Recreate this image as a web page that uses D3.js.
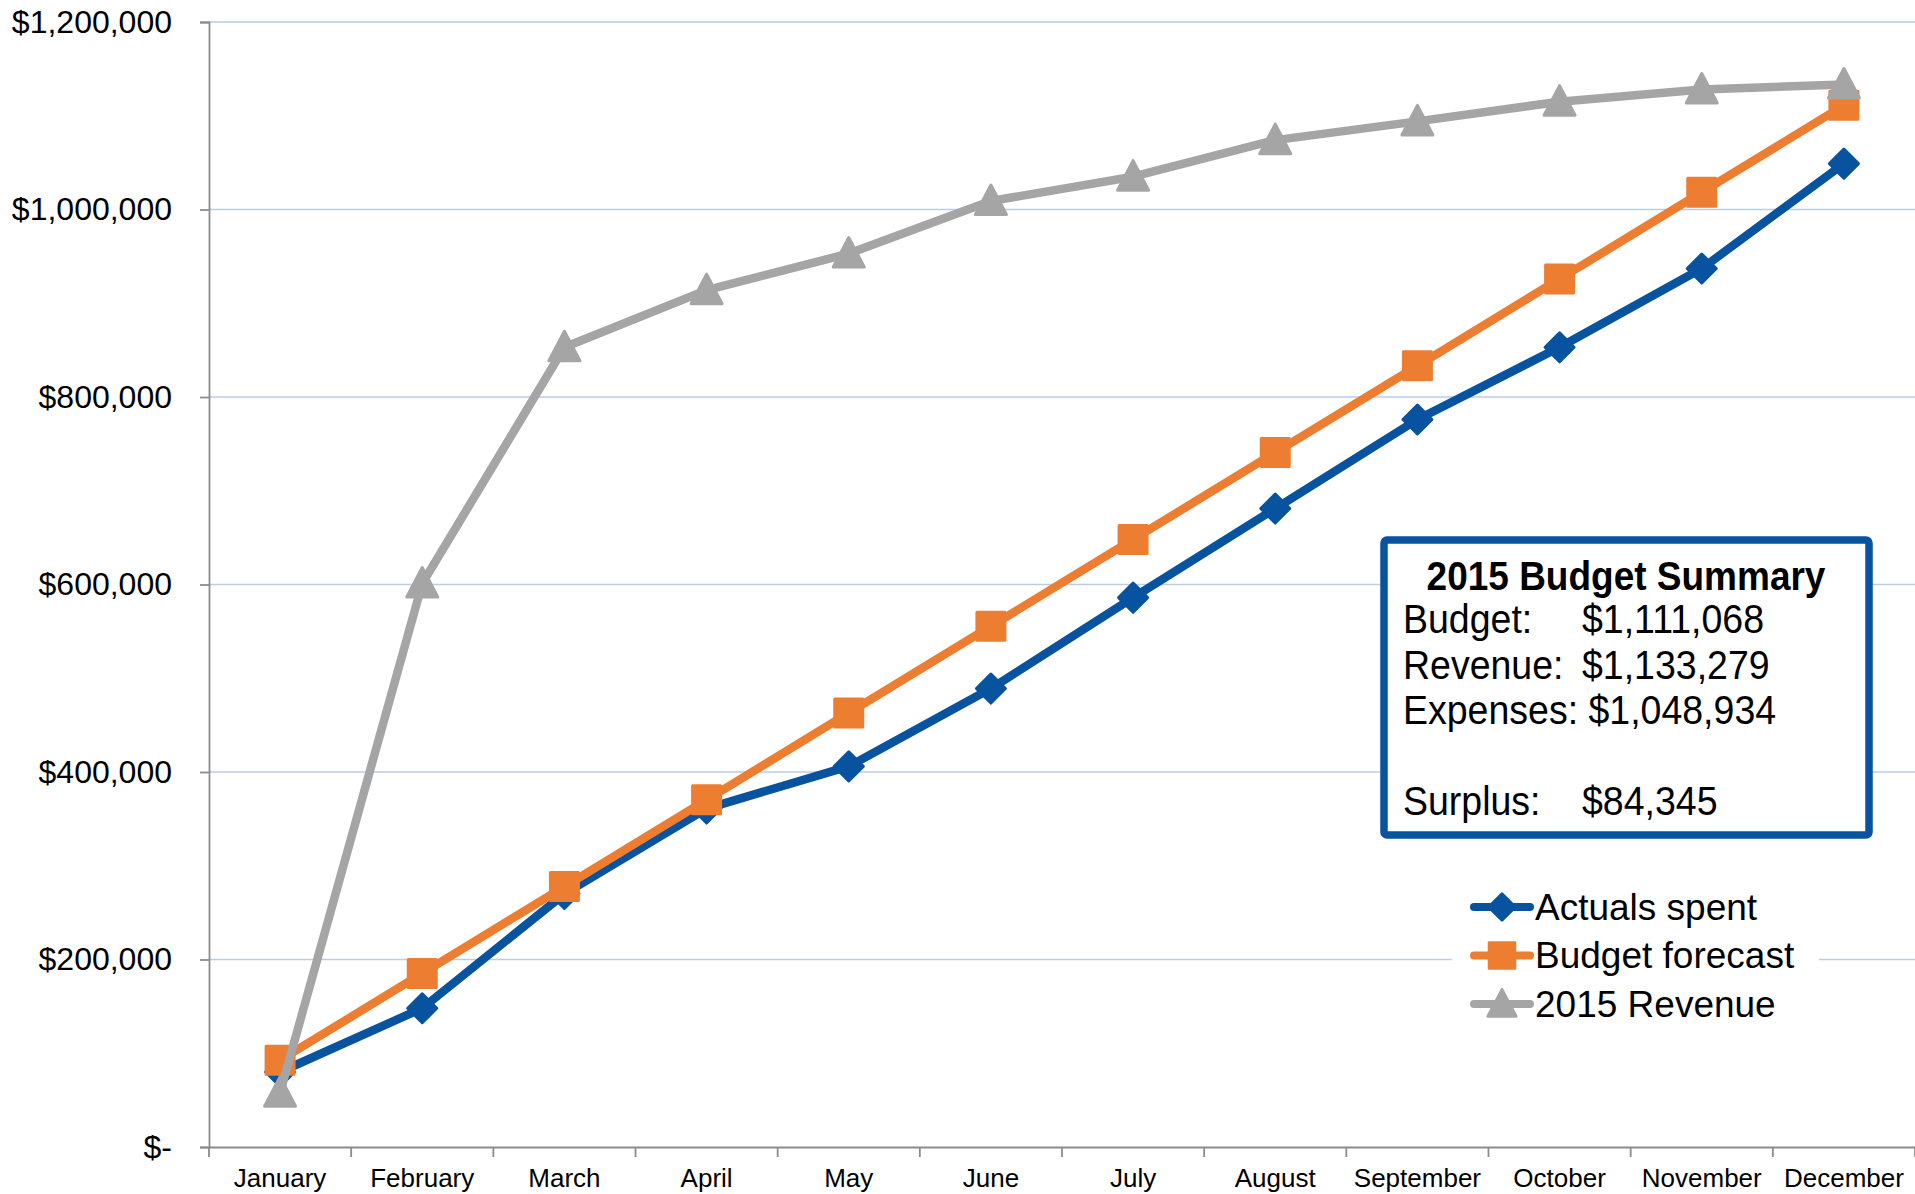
<!DOCTYPE html>
<html>
<head>
<meta charset="utf-8">
<script src="https://cdn.jsdelivr.net/npm/d3@7"></script>
<style>
  html, body { margin: 0; padding: 0; background: #fff; }
  svg { display: block; font-family: "Liberation Sans", Arial, sans-serif; }
</style>
</head>
<body>
<svg id="chart"></svg>
<script>
const months = ['January', 'February', 'March', 'April', 'May', 'June',
  'July', 'August', 'September', 'October', 'November', 'December'];
const actualsSpent = [80000, 148000, 270000, 361000, 406000, 489000,
  586000, 681000, 776000, 853000, 937000, 1048934];
const budgetForecast = [92589, 185178, 277767, 370356, 462945, 555534,
  648123, 740712, 833301, 925890, 1018479, 1111068];
const revenue2015 = [58000, 601000, 853000, 914000, 953000, 1009000,
  1035000, 1074000, 1094000, 1115000, 1128000, 1133279];
const yTicks = [0, 200000, 400000, 600000, 800000, 1000000, 1200000];
const seriesNames = ['Actuals spent', 'Budget forecast', '2015 Revenue'];
const summaryRows = [
  ['Budget:', '$1,111,068'],
  ['Revenue:', '$1,133,279'],
  ['Expenses: $1,048,934', ''],
  ['', ''],
  ['Surplus:', '$84,345'],
];

const width = 1915;
const height = 1194;
const svg = d3.select('#chart').attr('width', width).attr('height', height);

const x = d3.scaleBand().domain(months).range([209, 1915]);
const y = d3.scaleLinear().domain([0, 1200000]).range([1147, 22]);

const colors = ['#0753A0', '#ED7D31', '#A5A5A5'];
const markerPaths = [
  'M0,-14.5L14.5,0L0,14.5L-14.5,0Z',
  'M-14,-14H14V14H-14Z',
  'M0,-16L15.5,13.5L-15.5,13.5Z',
];

// gridlines
svg.append('g').selectAll('line')
  .data(yTicks.filter((d) => d > 0))
  .join('line')
  .attr('x1', 209).attr('x2', width)
  .attr('y1', (d) => y(d)).attr('y2', (d) => y(d))
  .attr('stroke', '#B9CDE5').attr('stroke-width', 1.5);

// y axis
const fmt = (d) => (d === 0 ? '$-' : '$' + d3.format(',')(d));
const yAxis = svg.append('g')
  .attr('transform', 'translate(209,0)')
  .call(d3.axisLeft(y).tickValues(yTicks).tickFormat(fmt).tickSize(9).tickPadding(28));
yAxis.select('.domain').attr('stroke', '#8C8C8C').attr('stroke-width', 1.8);
yAxis.selectAll('.tick line').attr('stroke', '#8C8C8C').attr('stroke-width', 1.8);
yAxis.selectAll('.tick text')
  .attr('font-size', 32).attr('fill', '#000')
  .attr('font-family', '"Liberation Sans", Arial, sans-serif');

// x axis
const xAxis = svg.append('g')
  .attr('transform', 'translate(0,1147)')
  .call(d3.axisBottom(x).tickSize(0).tickPadding(22));
xAxis.select('.domain').attr('stroke', '#8C8C8C').attr('stroke-width', 1.8);
xAxis.selectAll('.tick text')
  .attr('font-size', 26).attr('fill', '#000')
  .attr('font-family', '"Liberation Sans", Arial, sans-serif');
svg.append('g').selectAll('line')
  .data(d3.range(months.length + 1))
  .join('line')
  .attr('x1', (i) => 209 + i * x.step()).attr('x2', (i) => 209 + i * x.step())
  .attr('y1', 1147).attr('y2', 1157)
  .attr('stroke', '#8C8C8C').attr('stroke-width', 1.8);

// series
const allSeries = [actualsSpent, budgetForecast, revenue2015];
const cx = (i) => x(months[i]) + x.bandwidth() / 2;
const line = d3.line().x((d, i) => cx(i)).y((d) => y(d));

allSeries.forEach((values, s) => {
  const g = svg.append('g');
  g.append('path')
    .datum(values)
    .attr('d', line)
    .attr('fill', 'none')
    .attr('stroke', colors[s])
    .attr('stroke-width', 8.5)
    .attr('stroke-linejoin', 'round');
  g.selectAll('path.marker')
    .data(values)
    .join('path')
    .attr('class', 'marker')
    .attr('d', markerPaths[s])
    .attr('transform', (d, i) => `translate(${cx(i)},${y(d)})`)
    .attr('fill', colors[s])
    .attr('stroke', colors[s])
    .attr('stroke-width', 3)
    .attr('stroke-linejoin', 'round');
});

// summary box
const box = svg.append('g');
box.append('rect')
  .attr('x', 1384).attr('y', 540).attr('width', 485).attr('height', 295)
  .attr('rx', 3)
  .attr('fill', '#fff')
  .attr('stroke', '#0753A0')
  .attr('stroke-width', 7.5);
box.append('text')
  .attr('transform', 'translate(1626,590) scale(1,1.08)')
  .attr('text-anchor', 'middle')
  .attr('font-size', 37).attr('font-weight', 'bold')
  .text('2015 Budget Summary');
summaryRows.forEach((row, i) => {
  const ty = 633 + i * 45.5;
  box.append('text').attr('transform', `translate(1403,${ty}) scale(1,1.08)`)
    .attr('font-size', 37.5).text(row[0]);
  box.append('text').attr('transform', `translate(1582,${ty}) scale(1,1.08)`)
    .attr('font-size', 37.5).text(row[1]);
});

// legend
const legend = svg.append('g');
legend.append('rect')
  .attr('x', 1452).attr('y', 878).attr('width', 367).attr('height', 152)
  .attr('fill', '#fff');
seriesNames.forEach((name, s) => {
  const ly = 907 + s * 48.5;
  legend.append('line')
    .attr('x1', 1474).attr('x2', 1530).attr('y1', ly).attr('y2', ly)
    .attr('stroke', colors[s]).attr('stroke-width', 8)
    .attr('stroke-linecap', 'round');
  legend.append('path')
    .attr('d', markerPaths[s])
    .attr('transform', `translate(1502,${ly}) scale(0.92)`)
    .attr('fill', colors[s]).attr('stroke', colors[s])
    .attr('stroke-width', 3).attr('stroke-linejoin', 'round');
  legend.append('text')
    .attr('x', 1535).attr('y', ly).attr('dy', '0.35em')
    .attr('font-size', 37)
    .text(name);
});
</script>
</body>
</html>
